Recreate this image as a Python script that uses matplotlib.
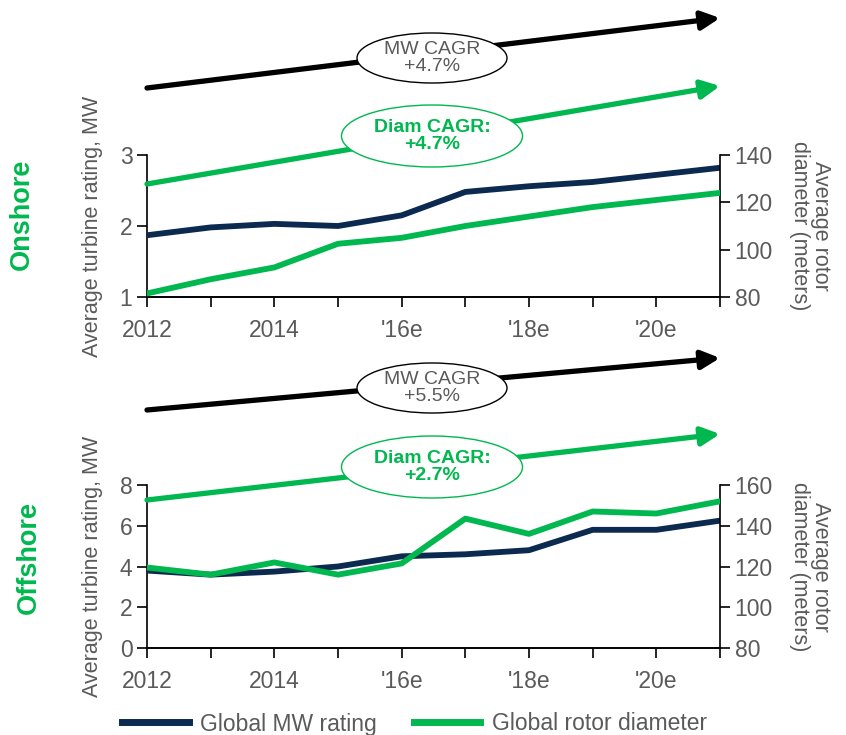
import numpy as np
import matplotlib.pyplot as plt
from matplotlib.patches import Ellipse, FancyArrowPatch
from matplotlib.lines import Line2D

plt.rcParams['font.family'] = ['Liberation Sans', 'DejaVu Sans']

years = np.arange(2012, 2022)
year_labels = ['2012', '', '2014', '', "'16e", '', "'18e", '', "'20e", '']

# onshore
on_mw = [1.87, 1.98, 2.03, 2.00, 2.15, 2.48, 2.56, 2.62, 2.72, 2.82]
on_diam = [81.5, 87.5, 92.5, 102.5, 105.0, 110.0, 114.0, 118.0, 121.0, 124.0]
on_mw_cagr = '+4.7%'
on_diam_cagr = '+4.7%'

# offshore
off_mw = [3.8, 3.6, 3.75, 4.0, 4.5, 4.6, 4.8, 5.8, 5.8, 6.25]
off_diam = [119.5, 116.0, 122.0, 116.0, 121.5, 143.5, 136.0, 147.0, 146.0, 152.0]
off_mw_cagr = '+5.5%'
off_diam_cagr = '+2.7%'

NAVY = '#0c2a4f'
GREEN = '#00b84f'
GREY = '#5a5a5a'
W, H = 846, 735

fig = plt.figure(figsize=(W / 100, H / 100), dpi=100)


def fx(px, py):
    # pixel position -> figure fraction
    return (px / W, 1 - py / H)


def arrow(p0, p1, color):
    a = FancyArrowPatch(fx(*p0), fx(*p1), transform=fig.transFigure,
                        arrowstyle='-|>,head_length=1.0,head_width=0.5',
                        mutation_scale=11, lw=3.8, color=color,
                        shrinkA=0, shrinkB=0, zorder=5)
    fig.patches.append(a)


def bubble(center, w, h, text, edge, tcolor, bold):
    cx, cy = fx(*center)
    e = Ellipse((cx, cy), w / W, h / H, transform=fig.transFigure,
                facecolor='white', edgecolor=edge, lw=1.0, zorder=6)
    fig.patches.append(e)
    fig.text(cx, cy, text, ha='center', va='center', color=tcolor,
             fontsize=14, fontweight='bold' if bold else 'normal',
             linespacing=1.0, zorder=7)


def panel(rect, mw, diam, ylim, yticks, rlim, rticks):
    ax = fig.add_axes(rect)
    ax.plot(years, mw, color=NAVY, lw=4.2, zorder=3, solid_joinstyle='round')
    ax.set_xlim(2012, 2021)
    ax.set_ylim(*ylim)
    ax.set_yticks(yticks)
    ax.set_xticks(years)
    ax.set_xticklabels(year_labels)
    ax.spines['top'].set_visible(False)
    ax.spines['right'].set_visible(False)
    ax.tick_params(axis='both', colors='black', labelcolor=GREY, labelsize=16.5,
                   direction='out', length=7, width=1.2)
    ax.tick_params(axis='x', pad=9)
    ax.set_ylabel('Average turbine rating, MW', color=GREY, fontsize=15.5,
                  labelpad=12)
    ax.patch.set_alpha(0)

    ax2 = ax.twinx()
    ax2.plot(years, diam, color=GREEN, lw=4.2, zorder=3, solid_joinstyle='round')
    ax2.set_ylim(*rlim)
    ax2.set_yticks(rticks)
    ax2.spines['top'].set_visible(False)
    ax2.spines['left'].set_visible(False)
    ax2.tick_params(axis='y', colors='black', labelcolor=GREY, labelsize=16.5,
                    direction='out', length=7, width=1.2)
    ax2.set_ylabel('Average rotor\ndiameter (meters)', color=GREY, fontsize=15.5,
                   rotation=-90, labelpad=42, linespacing=1.0)
    for s in ('left', 'bottom', 'right'):
        ax.spines[s].set_linewidth(1.2)
        ax2.spines[s].set_linewidth(1.2)
    return ax, ax2


panel([147 / W, 1 - 297 / H, 573 / W, 142 / H], on_mw, on_diam,
      (1, 3), [1, 2, 3], (80, 140), [80, 100, 120, 140])
panel([147 / W, 1 - 648 / H, 573 / W, 163 / H], off_mw, off_diam,
      (0, 8), [0, 2, 4, 6, 8], (80, 160), [80, 100, 120, 140, 160])

fig.text(*fx(22, 214), 'Onshore', rotation=90, ha='center', va='center',
         color=GREEN, fontsize=19.5, fontweight='bold')
fig.text(*fx(29, 558), 'Offshore', rotation=90, ha='center', va='center',
         color=GREEN, fontsize=19.5, fontweight='bold')

# CAGR arrows, onshore
arrow((147, 88), (720, 18), 'black')
arrow((147, 184), (720, 86), GREEN)
bubble((432, 58), 150, 50, 'MW CAGR\n' + on_mw_cagr, 'black', GREY, False)
bubble((432, 136), 181, 62, 'Diam CAGR:\n' + on_diam_cagr, GREEN, GREEN, True)

# CAGR arrows, offshore
arrow((147, 410), (720, 358), 'black')
arrow((147, 500), (720, 434), GREEN)
bubble((432, 388), 150, 50, 'MW CAGR\n' + off_mw_cagr, 'black', GREY, False)
bubble((432, 467), 181, 62, 'Diam CAGR:\n' + off_diam_cagr, GREEN, GREEN, True)

handles = [Line2D([], [], color=NAVY, lw=5), Line2D([], [], color=GREEN, lw=5)]
fig.legend(handles, ['Global MW rating', 'Global rotor diameter'],
           loc='center', bbox_to_anchor=(0.49, 1 - 724 / H), ncol=2,
           frameon=False, fontsize=16.5, labelcolor=GREY, handlelength=2.9,
           columnspacing=1.6, handletextpad=0.5)

fig.savefig('out.png', dpi=100)
